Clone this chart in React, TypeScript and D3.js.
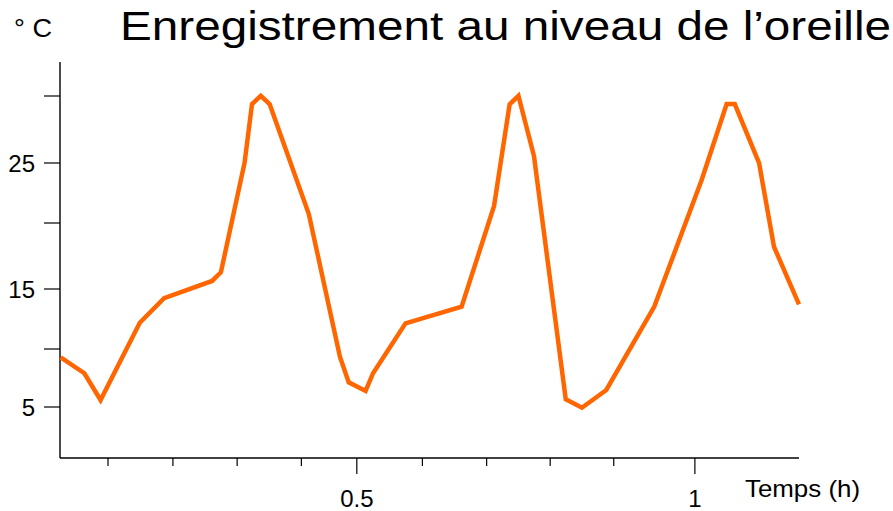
import { useRef, useEffect } from 'react';
import * as d3 from 'd3';

// temps (h) and température (°C)
const hours = [
  0.062, 0.097, 0.121, 0.179, 0.215, 0.286, 0.299, 0.334, 0.345, 0.358, 0.371, 0.429, 0.475,
  0.488, 0.513, 0.524, 0.572, 0.655, 0.703, 0.726, 0.739, 0.762, 0.809, 0.833, 0.869, 0.94,
  1.01, 1.047, 1.059, 1.095, 1.117, 1.154,
];
const temps = [
  9.28, 7.91, 5.6, 12.19, 14.23, 15.61, 16.27, 25.02, 29.4, 30.02, 29.4, 20.75, 9.34, 7.13,
  6.38, 7.91, 12.14, 13.53, 21.42, 29.38, 30.02, 25.52, 5.66, 4.94, 6.47, 13.53, 23.58, 29.4,
  29.4, 24.98, 18.2, 13.71,
];

const yLabelTicks = [5, 15, 25];
const yMinorTicks = [10, 20, 30];
const xLabelTicks = [0.5, 1];
const xMinorTicks = [0.132, 0.228, 0.323, 0.418, 0.597, 0.692, 0.786, 0.88];

const title = 'Enregistrement au niveau de l’oreille';
const yTitle = '° C';
const xTitle = 'Temps (h)';

const W = 893;
const H = 511;
const FONT = '"Liberation Sans", Arial, sans-serif';

export default function App() {
  const ref = useRef<SVGGElement>(null);

  useEffect(() => {
    const g = d3.select(ref.current);
    g.selectAll('*').remove();

    const x = d3.scaleLinear().domain([0.061, 1.154]).range([60, 799]);
    // the printed scale is not quite even, so piece it together
    const y = d3
      .scaleLinear()
      .domain([0.6, 5, 10, 15, 20, 25, 30, 32.9])
      .range([458, 407, 349, 289, 223, 163, 96, 62]);

    const [x0, x1] = x.range();
    const yBottom = y(0.6);
    const yTop = y(32.9);

    // axes
    g.append('line')
      .attr('x1', x0).attr('x2', x0).attr('y1', yTop).attr('y2', yBottom)
      .attr('stroke', '#000').attr('stroke-width', 1.4);
    g.append('line')
      .attr('x1', x0).attr('x2', x1).attr('y1', yBottom).attr('y2', yBottom)
      .attr('stroke', '#000').attr('stroke-width', 1.4);

    g.append('g')
      .selectAll('line')
      .data([...yLabelTicks, ...yMinorTicks])
      .join('line')
      .attr('x1', x0 - 16).attr('x2', x0)
      .attr('y1', (d) => y(d)).attr('y2', (d) => y(d))
      .attr('stroke', '#000').attr('stroke-width', 1.2);

    g.append('g')
      .selectAll('text')
      .data(yLabelTicks)
      .join('text')
      .attr('x', 35)
      .attr('y', (d) => y(d))
      .attr('dy', '0.36em')
      .attr('text-anchor', 'end')
      .attr('font-size', 24)
      .text((d) => d);

    g.append('g')
      .selectAll('line')
      .data(xMinorTicks)
      .join('line')
      .attr('x1', (d) => x(d)).attr('x2', (d) => x(d))
      .attr('y1', yBottom).attr('y2', yBottom + 8)
      .attr('stroke', '#000').attr('stroke-width', 1.2);

    g.append('g')
      .selectAll('line')
      .data(xLabelTicks)
      .join('line')
      .attr('x1', (d) => x(d)).attr('x2', (d) => x(d))
      .attr('y1', yBottom).attr('y2', yBottom + 16)
      .attr('stroke', '#000').attr('stroke-width', 1.2);

    g.append('g')
      .selectAll('text')
      .data(xLabelTicks)
      .join('text')
      .attr('x', (d) => x(d))
      .attr('y', 507)
      .attr('text-anchor', 'middle')
      .attr('font-size', 24)
      .text((d) => String(d));

    g.append('text')
      .attr('x', 745).attr('y', 497).attr('font-size', 24)
      .attr('textLength', 115).attr('lengthAdjust', 'spacingAndGlyphs')
      .text(xTitle);
    g.append('text')
      .attr('x', 14).attr('y', 37).attr('font-size', 25)
      .attr('textLength', 38).attr('lengthAdjust', 'spacingAndGlyphs')
      .text(yTitle);
    g.append('text')
      .attr('x', 120).attr('y', 40).attr('font-size', 40)
      .attr('textLength', 771).attr('lengthAdjust', 'spacingAndGlyphs')
      .text(title);

    // the temperature trace
    const line = d3
      .line<number>()
      .x((d) => x(d))
      .y((_, i) => y(temps[i]));

    g.append('path')
      .attr('d', line(hours))
      .attr('fill', 'none')
      .attr('stroke', '#ff6600')
      .attr('stroke-width', 4.5)
      .attr('stroke-linejoin', 'miter');
  }, []);

  return (
    <svg
      width={W}
      height={H}
      viewBox={`0 0 ${W} ${H}`}
      style={{ position: 'absolute', left: 0, top: 0, background: '#fff', fontFamily: FONT }}
    >
      <g ref={ref}></g>
    </svg>
  );
}
